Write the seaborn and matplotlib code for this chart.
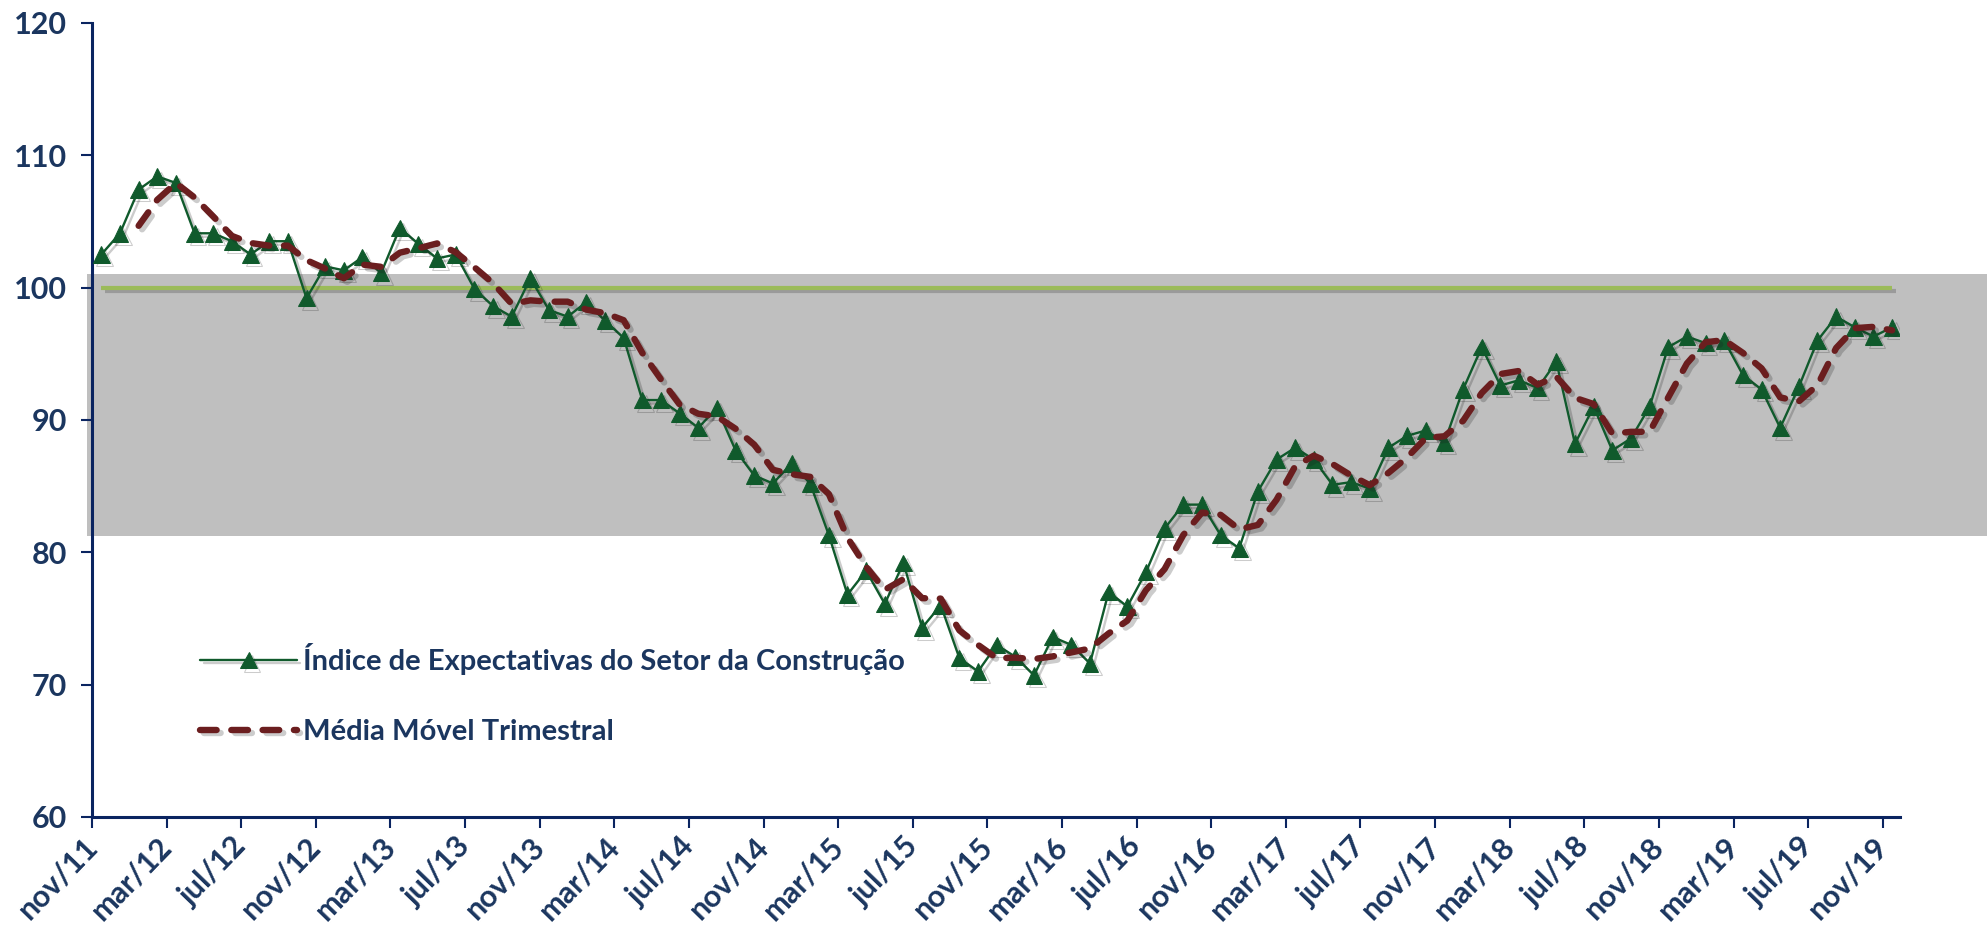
import numpy as np
import pandas as pd
import matplotlib
matplotlib.use("Agg")
import matplotlib.pyplot as plt
import matplotlib.patheffects as pe
import seaborn as sns

# ---- data (monthly, nov/11 .. nov/19) ----
INDEX_VALUES = [
    102.5, 104.1, 107.4, 108.4, 107.9, 104.1, 104.1, 103.5, 102.5, 103.5,
    103.5, 99.2, 101.6, 101.3, 102.3, 101.1, 104.5, 103.3, 102.2, 102.5,
    99.9, 98.6, 97.8, 100.7, 98.3, 97.8, 98.9, 97.5, 96.2, 91.5,
    91.5, 90.5, 89.4, 90.9, 87.7, 85.8, 85.2, 86.7, 85.2,
    81.3, 76.8, 78.6, 76.1, 79.2, 74.3, 76.0, 72.0, 71.0, 73.0,
    72.1, 70.7, 73.6, 73.0,
    71.6, 77.0, 75.9, 78.5, 81.8, 83.6, 83.6, 81.3, 80.3, 84.6,
    87.0, 87.9, 87.0, 85.1, 85.3, 84.8,
    87.9, 88.8, 89.2, 88.3, 92.3, 95.5, 92.6, 93.0, 92.4, 94.4,
    88.2, 91.0, 87.7, 88.6, 91.0, 95.5, 96.3,
    95.8, 96.0, 93.4, 92.3, 89.4, 92.5, 96.0, 97.8, 97.0, 96.3, 97.0,
]
TICK_LABELS = [
    "nov/11", "mar/12", "jul/12", "nov/12", "mar/13", "jul/13", "nov/13",
    "mar/14", "jul/14", "nov/14", "mar/15", "jul/15", "nov/15", "mar/16",
    "jul/16", "nov/16", "mar/17", "jul/17", "nov/17", "mar/18", "jul/18",
    "nov/18", "mar/19", "jul/19", "nov/19",
]
TICK_STEP = 4
REFERENCE_LEVEL = 100
BAND_LOW, BAND_HIGH = 81.2, 101.0
SERIES_NAME = "Índice de Expectativas do Setor da Construção"
MA_NAME = "Média Móvel Trimestral"

# ---- styling ----
NAVY_TEXT = "#1B365F"
NAVY_AXIS = "#0A2460"
GREEN = "#105A2C"
MAROON = "#6B1E1F"
LIGHT_GREEN = "#9BBB59"
BAND = "#BFBFBF"

sns.set_theme(style="white")
plt.rcParams["font.family"] = ["Lato", "DejaVu Sans"]
plt.rcParams["font.weight"] = "bold"

df = pd.DataFrame({"pos": np.arange(len(INDEX_VALUES)) + 0.5,
                   "value": INDEX_VALUES})
df["ma"] = df["value"].rolling(3).mean()

fig = plt.figure(figsize=(19.87, 9.32), dpi=100)
ax = fig.add_axes([0.0463, 0.1234, 0.9097, 0.8521])

# shaded band (extends past the right end of the axis, like the original)
ax.axhspan(BAND_LOW, BAND_HIGH, xmin=-0.003, xmax=1.06, color=BAND,
           clip_on=False, zorder=0, lw=0)

shadow = [pe.SimpleLineShadow(offset=(2.5, -2.5), shadow_color="k", alpha=0.22), pe.Normal()]

ax.hlines(REFERENCE_LEVEL, df["pos"].min(), df["pos"].max(), color=LIGHT_GREEN,
          lw=3.0, zorder=2, path_effects=shadow)

sns.lineplot(data=df, x="pos", y="value", ax=ax, color=GREEN, lw=1.7,
             marker="^", markersize=12, markeredgecolor=GREEN,
             label=SERIES_NAME, zorder=3)
sns.lineplot(data=df, x="pos", y="ma", ax=ax, color=MAROON, lw=4.6,
             label=MA_NAME, zorder=4)
lines = ax.get_lines()
lines[-2].set_path_effects(shadow)
ma_line = lines[-1]
ma_line.set_dashes((2.6, 2.3))
ma_line.set_dash_capstyle("round")
ma_line.set_path_effects(shadow)

ax.set_xlim(0, 96.9)
ax.set_ylim(60, 120)
ax.set_yticks(np.arange(60, 121, 10))
ax.set_xticks(np.arange(0, len(INDEX_VALUES), TICK_STEP))
ax.set_xticklabels(TICK_LABELS, rotation=46, ha="right", va="center",
                   rotation_mode="anchor")
ax.set_xlabel("")
ax.set_ylabel("")

for side in ["top", "right"]:
    ax.spines[side].set_visible(False)
for side in ["left", "bottom"]:
    ax.spines[side].set_color(NAVY_AXIS)
    ax.spines[side].set_linewidth(2.2)

ax.tick_params(axis="both", which="major", colors=NAVY_AXIS, length=8, width=1.5,
               direction="out", labelcolor=NAVY_TEXT, labelsize=22)
ax.tick_params(axis="x", pad=10, bottom=True)
ax.tick_params(axis="y", left=True, pad=10)
for lab in ax.get_xticklabels() + ax.get_yticklabels():
    lab.set_fontweight("bold")

leg = ax.legend(loc="upper left", bbox_to_anchor=(0.06, 0.219), frameon=False,
                fontsize=21, handlelength=3.3, labelspacing=1.5,
                handletextpad=0.2, borderpad=0, borderaxespad=0)
for t in leg.get_texts():
    t.set_color(NAVY_TEXT)
    t.set_fontweight("bold")

fig.savefig("out.png", dpi=100, facecolor="white")
